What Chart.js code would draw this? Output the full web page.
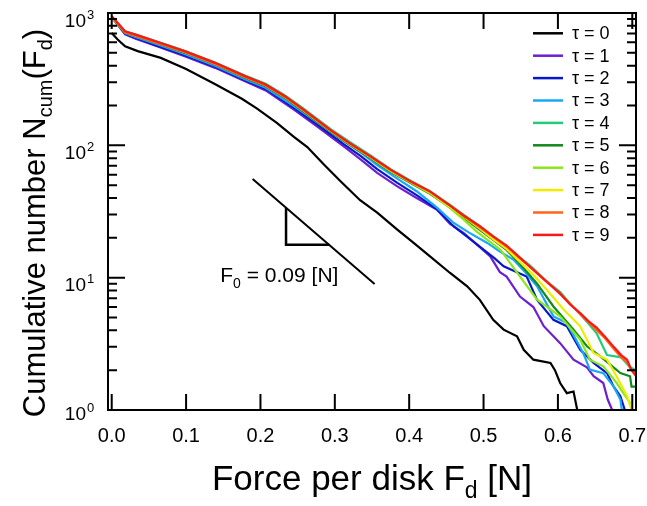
<!DOCTYPE html>
<html lang="en">
<head>
<meta charset="UTF-8">
<title>Cumulative number of disk forces</title>
<script src="https://cdn.jsdelivr.net/npm/chart.js"></script>
<style>
  body { margin: 0; background: #fff; }
  .wrap { width: 647px; height: 506px; position: relative; }
</style>
</head>
<body>
<div class="wrap"><canvas id="forceChart"></canvas></div>
<script>
// force per disk [N] and cumulative number, one pair of arrays per tau
const force0 = [0, 0.008, 0.018, 0.035, 0.066, 0.1, 0.138, 0.175, 0.195, 0.222, 0.245, 0.263, 0.285, 0.307, 0.334, 0.357, 0.384, 0.406, 0.428, 0.455, 0.478, 0.495, 0.513, 0.527, 0.545, 0.554, 0.567, 0.59, 0.596, 0.603, 0.612, 0.621, 0.626];
const count0 = [707, 630, 560, 515, 458, 378, 292, 225, 190, 148, 116, 97, 72, 54, 38.5, 31, 23.1, 18.3, 14.5, 10.85, 8.6, 6.8, 4.8, 4.05, 3.6, 2.85, 2.4, 2.27, 2, 1.6, 1.34, 1.38, 1.0];

const force1 = [0, 0.018, 0.032, 0.059, 0.099, 0.139, 0.18, 0.207, 0.245, 0.276, 0.312, 0.335, 0.357, 0.384, 0.41, 0.437, 0.455, 0.473, 0.495, 0.509, 0.522, 0.531, 0.549, 0.567, 0.581, 0.603, 0.621, 0.639, 0.648, 0.661, 0.667, 0.673];
const count1 = [930, 690, 640, 565, 470, 385, 303, 260, 186, 139, 98, 78, 62, 49, 40, 32.7, 25.5, 21.8, 17, 14.5, 11, 10.2, 7.2, 6, 4.3, 3.2, 2.4, 2.1, 1.8, 1.6, 1.2, 1.0];

const force2 = [0, 0.018, 0.032, 0.059, 0.099, 0.139, 0.18, 0.207, 0.245, 0.276, 0.312, 0.335, 0.357, 0.384, 0.41, 0.437, 0.46, 0.48, 0.5, 0.515, 0.527, 0.545, 0.558, 0.572, 0.594, 0.612, 0.63, 0.648, 0.666, 0.675, 0.684, 0.69];
const count2 = [935, 700, 650, 572, 478, 392, 309, 267, 192, 144, 102, 83, 66, 52, 42, 33, 24.4, 20, 16.3, 14, 12.2, 11, 10.2, 6.8, 4.8, 4.3, 2.85, 2.27, 1.9, 1.5, 1.27, 1.0];

const force3 = [0, 0.018, 0.032, 0.059, 0.099, 0.139, 0.18, 0.207, 0.245, 0.276, 0.312, 0.335, 0.357, 0.384, 0.41, 0.437, 0.46, 0.48, 0.505, 0.52, 0.54, 0.556, 0.572, 0.594, 0.612, 0.634, 0.643, 0.661, 0.675, 0.684, 0.686];
const count3 = [938, 705, 660, 585, 488, 400, 315, 272, 198, 150, 108, 88, 71, 56, 45, 34, 25.9, 22, 18.3, 16, 13.7, 11, 8.6, 5.1, 4.55, 2.7, 2.02, 1.9, 1.5, 1.2, 1.0];

const force4 = [0, 0.018, 0.032, 0.059, 0.099, 0.139, 0.18, 0.207, 0.233, 0.258, 0.294, 0.32, 0.348, 0.375, 0.402, 0.428, 0.455, 0.473, 0.495, 0.513, 0.531, 0.547, 0.563, 0.583, 0.603, 0.616, 0.63, 0.641, 0.652, 0.666, 0.685, 0.697, 0.705];
const count4 = [935, 725, 690, 615, 515, 423, 336, 292, 238, 189, 133, 106, 84, 66, 54, 45, 35.5, 30, 24.5, 20.5, 17.3, 14.5, 12.3, 9.6, 7.8, 6.4, 5.3, 4.5, 3.8, 2.6, 2.5, 2.1, 2.0];

const force5 = [0, 0.018, 0.032, 0.059, 0.099, 0.139, 0.18, 0.207, 0.233, 0.258, 0.294, 0.32, 0.348, 0.375, 0.402, 0.428, 0.455, 0.473, 0.495, 0.513, 0.531, 0.55, 0.572, 0.594, 0.621, 0.639, 0.657, 0.684, 0.697, 0.699, 0.705];
const count5 = [925, 712, 672, 598, 500, 410, 323, 280, 228, 180, 127, 101, 80, 63, 52, 43, 34, 28.5, 23, 19.3, 16.2, 12.5, 9, 6.06, 4.05, 3.03, 2.54, 1.9, 1.8, 1.5, 1.5];

const force6 = [0, 0.018, 0.032, 0.059, 0.099, 0.139, 0.18, 0.207, 0.233, 0.258, 0.294, 0.32, 0.348, 0.375, 0.402, 0.428, 0.455, 0.473, 0.49, 0.507, 0.523, 0.549, 0.572, 0.603, 0.63, 0.643, 0.661, 0.679, 0.688, 0.697, 0.699];
const count6 = [930, 718, 678, 603, 505, 414, 327, 284, 231, 183, 129, 102, 81, 64, 52.5, 43.5, 33.5, 27.5, 22.5, 19, 16.2, 10.2, 6.82, 5.1, 3.4, 2.4, 2.14, 1.6, 1.34, 1.13, 1.0];

const force7 = [0, 0.018, 0.032, 0.059, 0.099, 0.139, 0.18, 0.207, 0.233, 0.258, 0.294, 0.32, 0.348, 0.375, 0.402, 0.428, 0.455, 0.473, 0.495, 0.513, 0.531, 0.55, 0.567, 0.585, 0.608, 0.63, 0.648, 0.666, 0.679, 0.693, 0.699];
const count7 = [935, 720, 680, 606, 508, 416, 329, 285, 233, 184, 130, 103, 81.5, 64.5, 53, 44, 34.5, 29, 23.5, 19.5, 16.5, 13, 10.5, 8.1, 5.73, 4.29, 2.7, 2.4, 1.79, 1.27, 1.0];

const force8 = [0, 0.018, 0.032, 0.059, 0.099, 0.139, 0.18, 0.207, 0.233, 0.258, 0.294, 0.32, 0.348, 0.375, 0.402, 0.428, 0.455, 0.473, 0.495, 0.513, 0.531, 0.547, 0.563, 0.583, 0.603, 0.616, 0.63, 0.641, 0.652, 0.663, 0.675, 0.685, 0.693, 0.699, 0.705];
const count8 = [940, 715, 675, 600, 505, 412, 327, 283, 232, 184, 130, 103, 82, 65, 53, 44.5, 35, 29.5, 24, 20.3, 17.2, 14.3, 12, 9.6, 7.5, 6.4, 5.3, 4.6, 4.0, 3.5, 2.9, 2.5, 2.3, 2.0, 1.9];

const force9 = [0, 0.018, 0.032, 0.059, 0.099, 0.139, 0.18, 0.207, 0.233, 0.258, 0.294, 0.32, 0.348, 0.375, 0.402, 0.428, 0.455, 0.473, 0.495, 0.513, 0.531, 0.547, 0.563, 0.583, 0.603, 0.616, 0.63, 0.641, 0.652, 0.663, 0.675, 0.685, 0.693, 0.699, 0.705];
const count9 = [944, 727, 687, 611, 513, 420, 332, 288, 235, 186, 131, 104, 82.6, 65.5, 53.4, 44.9, 35, 29.5, 24.5, 20.5, 17.5, 14.5, 12, 9.5, 7.6, 6.3, 5.4, 4.7, 4.2, 3.6, 3, 2.6, 2.4, 2.0, 1.8];

const tauLabels = ['τ = 0', 'τ = 1', 'τ = 2', 'τ = 3', 'τ = 4', 'τ = 5', 'τ = 6', 'τ = 7', 'τ = 8', 'τ = 9'];
const tauColors = ['#000000', '#6e1fd0', '#0818c8', '#18a8f8', '#22cc7a', '#14881a', '#8ae81a', '#f0ec00', '#ff6418', '#f81818'];

// slope guide exp(-F/F0) and its small triangle
const guideForce = [0.1895, 0.3535];
const guideCount = [55.7, 8.96];
const triForce = [0.2344, 0.2344, 0.2926];
const triCount = [33.6, 17.76, 17.76];
const guideText = 'F0 = 0.09 [N]';

const xTicks = [0, 0.1, 0.2, 0.3, 0.4, 0.5, 0.6, 0.7];
const xTickLabels = ['0.0', '0.1', '0.2', '0.3', '0.4', '0.5', '0.6', '0.7'];
const yDecades = [0, 1, 2, 3];

const allForces = [force0, force1, force2, force3, force4, force5, force6, force7, force8, force9];
const allCounts = [count0, count1, count2, count3, count4, count5, count6, count7, count8, count9];

const FONT = "'Liberation Sans', Arial, sans-serif";

function toPoints(xs, ys) {
    return xs.map((x, i) => ({ x: x, y: ys[i] }));
}

const datasets = allForces.map((f, i) => ({
    label: tauLabels[i],
    data: toPoints(f, allCounts[i]),
    borderColor: tauColors[i],
    borderWidth: 2.2,
    pointRadius: 0,
    fill: false,
    order: 9 - i
}));
datasets.push({
    label: 'guide',
    data: toPoints(guideForce, guideCount),
    borderColor: '#000',
    borderWidth: 2,
    pointRadius: 0,
    order: 20
});
datasets.push({
    label: 'triangle',
    data: toPoints(triForce, triCount),
    borderColor: '#000',
    borderWidth: 2.5,
    pointRadius: 0,
    order: 20
});

// draws a run of text pieces [text, size, dy]
function drawRich(ctx, parts, x, y, align) {
    let total = 0;
    parts.forEach(p => {
        ctx.font = p[1] + 'px ' + FONT;
        total += ctx.measureText(p[0]).width;
    });
    let cx = align === 'center' ? x - total / 2 : x;
    ctx.textAlign = 'left';
    ctx.textBaseline = 'alphabetic';
    parts.forEach(p => {
        ctx.font = p[1] + 'px ' + FONT;
        ctx.fillText(p[0], cx, y + p[2]);
        cx += ctx.measureText(p[0]).width;
    });
}

const frame = {
    id: 'frame',
    afterDraw(chart) {
        const ctx = chart.ctx;
        const a = chart.chartArea;
        const xs = chart.scales.x, ys = chart.scales.y;
        ctx.save();
        ctx.strokeStyle = '#000';
        ctx.fillStyle = '#000';
        ctx.lineWidth = 2;
        ctx.strokeRect(a.left, a.top, a.right - a.left, a.bottom - a.top);

        // x ticks, bottom and top, pointing inward
        ctx.beginPath();
        xTicks.forEach(v => {
            const px = xs.getPixelForValue(v);
            ctx.moveTo(px, a.bottom); ctx.lineTo(px, a.bottom - 16);
            ctx.moveTo(px, a.top); ctx.lineTo(px, a.top + 16);
        });
        // log y ticks left and right
        yDecades.forEach(d => {
            for (let k = 1; k <= 9; k++) {
                if (d === 3 && k > 1) break;
                const py = ys.getPixelForValue(k * Math.pow(10, d));
                const len = k === 1 ? 17 : 9;
                ctx.moveTo(a.left, py); ctx.lineTo(a.left + len, py);
                ctx.moveTo(a.right, py); ctx.lineTo(a.right - len, py);
            }
        });
        ctx.stroke();

        // x tick labels
        ctx.font = '20px ' + FONT;
        ctx.textAlign = 'center';
        ctx.textBaseline = 'alphabetic';
        xTicks.forEach((v, i) => {
            ctx.fillText(xTickLabels[i], xs.getPixelForValue(v), 442);
        });

        // y tick labels 10^n
        yDecades.forEach(d => {
            const py = ys.getPixelForValue(Math.pow(10, d));
            const base = d === 0 ? py + 10 : py + 13.5;
            ctx.font = '19px ' + FONT;
            ctx.textAlign = 'right';
            ctx.fillText('10', 86, base);
            ctx.font = '13px ' + FONT;
            ctx.textAlign = 'left';
            ctx.fillText(String(d), 87, base - 8);
        });

        // axis titles
        drawRich(ctx, [['Force per disk F', 35, 0], ['d', 23, 8], [' [N]', 35, 0]], (a.left + a.right) / 2, 490, 'center');
        ctx.save();
        ctx.translate(45, 223);
        ctx.rotate(-Math.PI / 2);
        drawRich(ctx, [['Cumulative number N', 31, 0], ['cum', 20, 7], ['(F', 31, 0], ['d', 20, 7], [')', 31, 0]], 0, 0, 'center');
        ctx.restore();

        // slope label
        const gx = xs.getPixelForValue(0.146);
        const gy = ys.getPixelForValue(9.3);
        drawRich(ctx, [[guideText.slice(0, 1), 21, 0], [guideText.slice(1, 2), 14, 6], [guideText.slice(2), 21, 0]], gx, gy, 'left');

        // legend
        ctx.lineWidth = 2.5;
        tauLabels.forEach((t, i) => {
            const ly = 33.3 + 22.4 * i;
            ctx.strokeStyle = tauColors[i];
            ctx.beginPath();
            ctx.moveTo(533, ly); ctx.lineTo(563, ly);
            ctx.stroke();
            ctx.font = '18px ' + FONT;
            ctx.textAlign = 'left';
            ctx.textBaseline = 'middle';
            ctx.fillStyle = '#000';
            ctx.fillText(t, 572, ly + 1);
        });
        ctx.restore();
    }
};

new Chart(document.getElementById('forceChart'), {
    type: 'line',
    data: { datasets: datasets },
    options: {
        responsive: true,
        maintainAspectRatio: false,
        animation: false,
        layout: { padding: { left: 108, right: 11, top: 13, bottom: 96 } },
        plugins: { legend: { display: false }, tooltip: { enabled: false } },
        elements: { line: { tension: 0 } },
        scales: {
            x: { type: 'linear', min: -0.005, max: 0.705, display: false },
            y: { type: 'logarithmic', min: 1, max: 1000, display: false }
        }
    },
    plugins: [frame]
});
</script>
</body>
</html>
